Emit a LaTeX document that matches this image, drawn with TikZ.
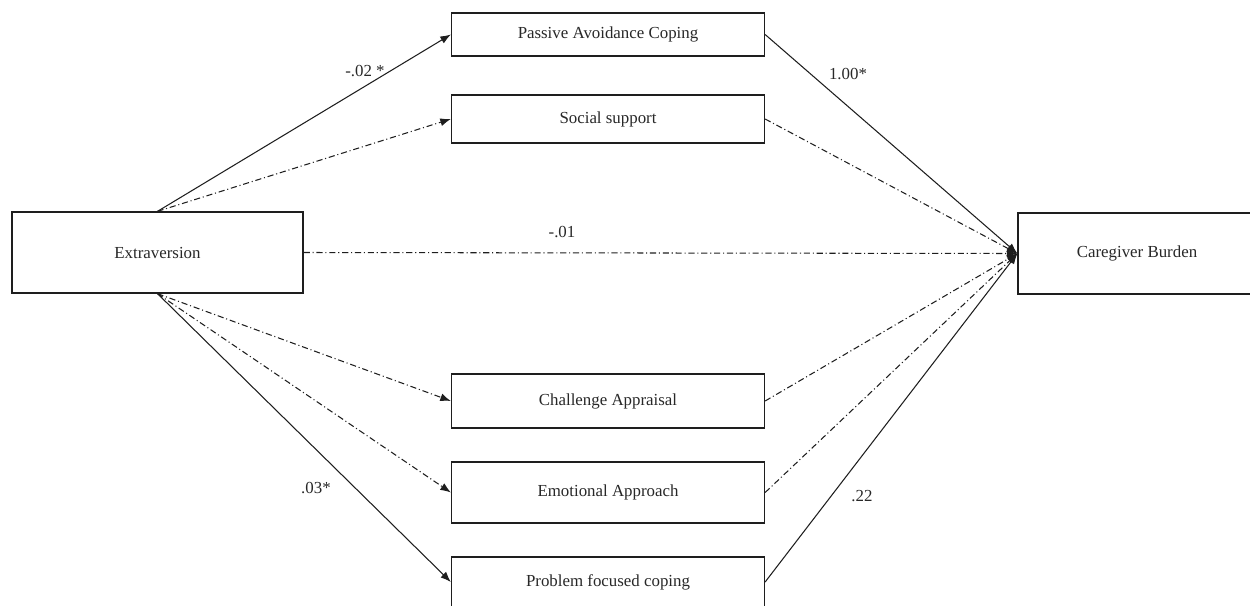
\documentclass[tikz,border=0pt]{standalone}
\usepackage{fontspec}
\setmainfont{Liberation Serif}
\usepackage{tikz}
\usetikzlibrary{arrows.meta, positioning}
\definecolor{pline}{RGB}{30,30,30}
\definecolor{ptext}{RGB}{40,40,40}

\begin{document}
\begin{tikzpicture}[
  x=0.02cm, y=-0.02cm,
  font=\fontsize{9.6}{11}\selectfont,
  var/.style={draw=pline,line width=0.75pt,fill=white,
              minimum width=6.26cm,inner sep=0pt,
              align=center,text=ptext},
  coef/.style={text=ptext,inner sep=1pt},
  sig/.style={-{Latex[length=6pt,width=4.5pt]},line width=0.6pt,draw=pline},
  ns/.style={sig,dash pattern=on 3.5pt off 1.6pt on 0.6pt off 1.6pt}
]
  \useasboundingbox (0,0) rectangle (1250,605);

  % Predictor and outcome
  \node[var,minimum width=5.82cm,minimum height=1.62cm] (extra) at (157.5,252.5) {Extraversion};
  \node[var,minimum width=4.76cm,minimum height=1.62cm] (burden) at (1137,253.5) {Caregiver Burden};

  % Mediators
  \node[var,minimum height=0.86cm] (pac) at (608,34.5) {Passive Avoidance Coping};
  \node[var,minimum height=0.96cm] (soc) at (608,119) {Social support};
  \node[var,minimum height=1.08cm] (cha) at (608,401) {Challenge Appraisal};
  \node[var,minimum height=1.22cm] (emo) at (608,492.5) {Emotional Approach};
  \node[var,minimum height=1.00cm] (pfc) at (608,582) {Problem focused coping};

  % a paths
  \draw[sig] (extra.north) -- (pac.west);
  \draw[ns] (extra.north) -- (soc.west);
  \draw[ns] (extra.south) -- (cha.west);
  \draw[ns] (extra.south) -- (emo.west);
  \draw[sig] (extra.south) -- (pfc.west);

  % b paths
  \draw[sig] (pac.east) -- (burden.west);
  \draw[ns] (soc.east) -- (burden.west);
  \draw[ns] (cha.east) -- (burden.west);
  \draw[ns] (emo.east) -- (burden.west);
  \draw[sig] (pfc.east) -- (burden.west);

  % direct path
  \draw[ns] (extra.east) -- (burden.west);

  % Coefficients
  \node[coef] (c1) at (365,71) {-.02 *};
  \node[coef] (c2) at (848,74) {1.00*};
  \node[coef] (c3) at (562,232) {-.01};
  \node[coef] (c4) at (316,488) {.03*};
  \node[coef] (c5) at (862,496) {.22};
\end{tikzpicture}
\end{document}
